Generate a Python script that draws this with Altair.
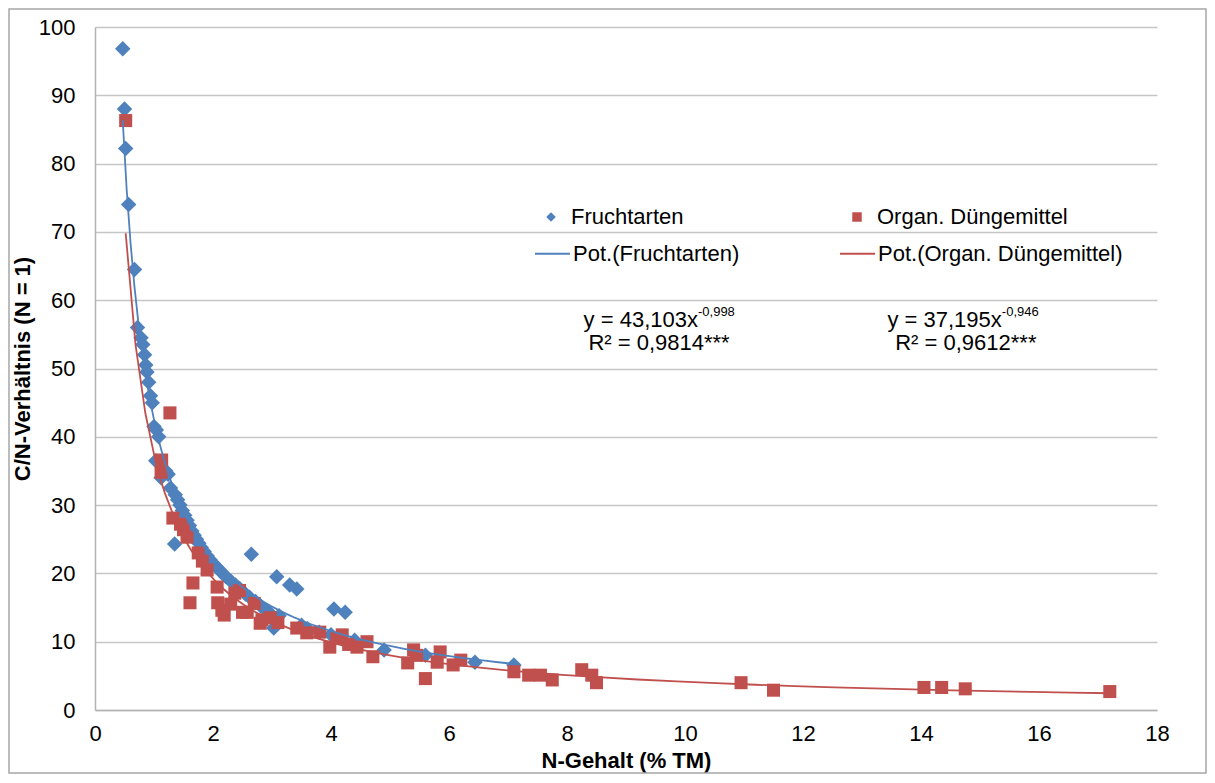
import altair as alt
import pandas as pd

# ---- data ----
fr_x = [0.47, 0.50, 0.52, 0.57, 0.67, 0.72, 0.78, 0.81, 0.84, 0.86, 0.88, 0.91, 0.94, 0.97,
        1.00, 1.04, 1.08, 1.03, 1.12, 1.20, 1.24, 1.28, 1.35, 1.36, 1.40, 1.44, 1.48, 1.52,
        1.56, 1.60, 1.64, 1.68, 1.72, 1.76, 1.80, 1.85, 1.90, 1.95, 2.00, 2.05, 2.10, 2.15,
        2.22, 2.30, 2.38, 2.45, 2.55, 2.62, 2.65, 2.72, 2.80, 2.88, 2.95, 3.03, 3.08, 3.12,
        3.30, 3.42, 3.50, 3.60, 3.80, 4.00, 4.05, 4.24, 4.40, 4.90, 5.60, 6.44, 7.10]
fr_y = [96.8, 88.0, 82.2, 74.0, 64.5, 56.0, 54.5, 53.5, 52.0, 50.5, 49.5, 48.0, 46.0, 45.0,
        41.5, 41.0, 40.0, 36.5, 34.0, 35.0, 34.5, 32.5, 24.3, 31.5, 30.8, 30.0, 29.2, 28.5,
        27.8, 27.0, 26.2, 25.6, 25.0, 24.4, 23.8, 23.2, 22.6, 22.0, 21.5, 21.0, 20.6, 20.1,
        19.5, 18.9, 18.3, 17.8, 17.0, 16.5, 22.8, 15.9, 15.3, 14.7, 14.3, 12.0, 19.5, 13.8,
        18.3, 17.7, 12.4, 11.9, 11.4, 11.0, 14.8, 14.3, 10.2, 8.8, 8.0, 7.0, 6.6]

od_x = [0.52, 1.12, 1.13, 1.27, 1.32, 1.45, 1.50, 1.56, 1.61, 1.66, 1.75, 1.82, 1.90, 2.07,
        2.08, 2.15, 2.19, 2.30, 2.37, 2.45, 2.50, 2.58, 2.70, 2.80, 2.83, 2.97, 3.10, 3.42,
        3.59, 3.81, 3.98, 4.10, 4.19, 4.30, 4.44, 4.61, 4.71, 5.30, 5.40, 5.45, 5.60, 5.80,
        5.85, 6.07, 6.20, 7.10, 7.35, 7.55, 7.75, 8.25, 8.42, 8.50, 10.95, 11.50, 14.05,
        14.35, 14.75, 17.20]
od_y = [86.3, 34.8, 36.6, 43.5, 28.1, 27.2, 26.4, 25.3, 15.7, 18.6, 23.0, 21.8, 20.5, 18.0,
        15.7, 14.6, 13.9, 15.5, 17.1, 17.5, 14.3, 14.3, 15.6, 12.7, 13.2, 13.5, 12.8, 12.0,
        11.3, 11.4, 9.2, 10.5, 11.0, 9.6, 9.2, 10.0, 7.8, 6.9, 8.8, 8.0, 4.6, 7.0,
        8.5, 6.6, 7.3, 5.6, 5.1, 5.1, 4.4, 5.9, 5.1, 4.0, 4.0, 2.9, 3.3,
        3.3, 3.1, 2.7]

SERIES = ["Fruchtarten", "Organ. Düngemittel"]
TRENDS = ["Pot.(Fruchtarten)", "Pot.(Organ. Düngemittel)"]
COLORS = ["#4F81BD", "#C0504D"]
SHAPES = ["diamond", "square"]

x_ticks = [0, 2, 4, 6, 8, 10, 12, 14, 16, 18]
y_ticks = [0, 10, 20, 30, 40, 50, 60, 70, 80, 90, 100]

eq_x = [10.22, 15.37]
eq_y = [57.1, 57.1]
eq_text = ["y = 43,103x", "y = 37,195x"]
eq_exp = ["-0,998", "-0,946"]
r2_x = [9.56, 14.76]
r2_y = [53.7, 53.7]
r2_text = ["R² = 0,9814***", "R² = 0,9612***"]

FONT = "Liberation Sans"
FS = 22

df = pd.DataFrame({
    "x": fr_x + od_x,
    "y": fr_y + od_y,
    "series": ["Fruchtarten"] * len(fr_x) + ["Organ. Düngemittel"] * len(od_x),
})
eq_df = pd.DataFrame({"x": eq_x, "y": eq_y, "t": eq_text, "e": eq_exp})
r2_df = pd.DataFrame({"x": r2_x, "y": r2_y, "t": r2_text})

legend_pts = alt.Legend(
    title=None, orient="none", legendX=445, legendY=179, columns=2,
    columnPadding=162, symbolSize=90, symbolOpacity=1, symbolStrokeWidth=0,
    labelFont=FONT, labelFontSize=FS, labelColor="#000",
    labelOffset=9, labelLimit=500,
)
legend_lines = alt.Legend(
    title=None, orient="none", legendX=439, legendY=208, columns=2,
    columnPadding=96, symbolSize=1225, symbolType="stroke", symbolStrokeWidth=2,
    symbolOpacity=1, labelFont=FONT, labelFontSize=FS, labelColor="#000",
    labelOffset=2, labelLimit=500,
)

xenc = alt.X("x:Q", scale=alt.Scale(domain=[0, 18], nice=False),
             axis=alt.Axis(values=x_ticks, format="d", title="N-Gehalt (% TM)", grid=False,
                           labelFlush=False, labelPadding=13, titlePadding=6))
yenc = alt.Y("y:Q", scale=alt.Scale(domain=[0, 100], nice=False),
             axis=alt.Axis(values=y_ticks, format="d", title="C/N-Verhältnis (N = 1)", grid=True,
                           labelPadding=20, titlePadding=4))
color = alt.Color("series:N", scale=alt.Scale(domain=SERIES, range=COLORS), legend=legend_pts)
shape = alt.Shape("series:N", scale=alt.Scale(domain=SERIES, range=SHAPES), legend=legend_pts)
stroke = alt.Stroke("trend:N", scale=alt.Scale(domain=TRENDS, range=COLORS), legend=legend_lines)

base = alt.Chart(df)
pts_fr = base.transform_filter(alt.datum.series == "Fruchtarten").mark_point(
    filled=True, opacity=1, size=240).encode(x=xenc, y=yenc, color=color, shape=shape)
pts_od = base.transform_filter(alt.datum.series == "Organ. Düngemittel").mark_point(
    filled=True, opacity=1, size=170).encode(x=xenc, y=yenc, color=color, shape=shape)

lines = base.transform_regression(
    "x", "y", method="pow", groupby=["series"]
).transform_calculate(
    trend="'Pot.(' + datum.series + ')'"
).mark_line(strokeWidth=1.8).encode(x="x:Q", y="y:Q", stroke=stroke, detail="series:N")

eq_main = alt.Chart(eq_df).mark_text(
    align="right", baseline="middle", font=FONT, fontSize=FS, color="#000"
).encode(x="x:Q", y="y:Q", text="t:N")
eq_sup = alt.Chart(eq_df).mark_text(
    align="left", baseline="middle", font=FONT, fontSize=13, color="#000", dy=-8
).encode(x="x:Q", y="y:Q", text="e:N")
r2 = alt.Chart(r2_df).mark_text(
    align="center", baseline="middle", font=FONT, fontSize=FS, color="#000"
).encode(x="x:Q", y="y:Q", text="t:N")

frame = alt.Chart(pd.DataFrame({"k": [0]})).mark_rect(
    filled=False, stroke="#a6a6a6", strokeWidth=1.5
).encode(x=alt.value(-86), x2=alt.value(1111), y=alt.value(-18), y2=alt.value(746))

chart = alt.layer(frame, pts_fr, pts_od, lines, eq_main, eq_sup, r2).properties(
    width=1062, height=683,
    autosize=alt.AutoSizeParams(type="none"),
    padding={"left": 87, "top": 19, "right": 50, "bottom": 65},
).configure_view(stroke="transparent").configure_axis(
    labelFont=FONT, labelFontSize=FS, labelColor="#000",
    titleFont=FONT, titleFontSize=FS, titleFontWeight="bold", titleColor="#000",
    ticks=False, domainColor="#b3b3b3", domainWidth=1.5,
    gridColor="#c6c6c6", gridWidth=1.5,
)

chart.save("out.html", embed_options={"renderer": "svg", "actions": False})
